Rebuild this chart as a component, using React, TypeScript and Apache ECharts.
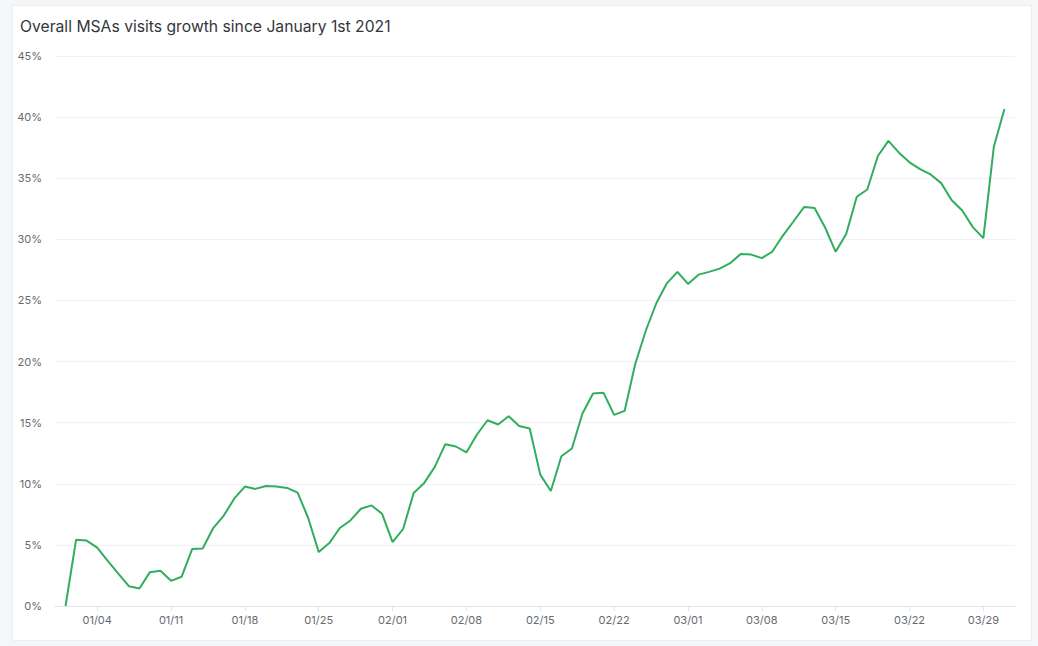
import React, { useEffect, useRef } from "react";
import * as echarts from "echarts";

const TITLE = "Overall MSAs visits growth since January 1st 2021";

// Daily growth values (%)
const janValues = [
  0, 5.43, 5.35, 4.77, 3.7, 2.65, 1.62, 1.43, 2.77, 2.88, 2.06, 2.39, 4.66, 4.71, 6.38, 7.4,
  8.8, 9.77, 9.58, 9.82, 9.77, 9.66, 9.28, 7.2, 4.41, 5.15, 6.38, 7.0, 7.96, 8.23, 7.55,
];
const febValues = [
  5.22, 6.3, 9.25, 10.07, 11.38, 13.24, 13.05, 12.56, 14.03, 15.2, 14.85, 15.53, 14.72, 14.52,
  10.75, 9.41, 12.25, 12.89, 15.75, 17.39, 17.44, 15.64, 15.97, 19.8, 22.52, 24.77, 26.4, 27.34,
];
const marValues = [
  26.35, 27.11, 27.34, 27.6, 28.05, 28.81, 28.75, 28.46, 29.0, 30.31, 31.46, 32.64, 32.56,
  30.97, 28.98, 30.43, 33.48, 34.08, 36.82, 38.05, 37.09, 36.3, 35.75, 35.31, 34.6, 33.2,
  32.36, 31.0, 30.1, 37.6, 40.67,
];

const monthLengths = [31, 28, 31];
const yTicks = { min: 0, max: 45, interval: 5 };

function pad(n: number) {
  return n < 10 ? "0" + n : String(n);
}

// categories: 12/31 padding, 01/01 .. 03/31, 04/01 padding
const categories: string[] = ["12/31"];
monthLengths.forEach((len, m) => {
  for (let d = 1; d <= len; d++) categories.push(pad(m + 1) + "/" + pad(d));
});
categories.push("04/01");

const seriesData: (number | null)[] = [null, ...janValues, ...febValues, ...marValues, null];

export default function App() {
  const ref = useRef<HTMLDivElement>(null);

  useEffect(() => {
    if (!ref.current) return;
    const chart = echarts.init(ref.current, undefined, { renderer: "svg" });
    const showIdx = (i: number) => i >= 4 && (i - 4) % 7 === 0;
    chart.setOption({
      animation: false,
      title: {
        text: TITLE,
        left: 15,
        top: 13,
        textStyle: {
          fontFamily: "Inter",
          fontSize: 15.7,
          fontWeight: "normal",
          color: "#33363b",
        },
      },
      grid: { left: 55, right: 23, top: 56, bottom: 40, containLabel: false },
      xAxis: {
        type: "category",
        boundaryGap: false,
        data: categories,
        axisLine: { lineStyle: { color: "#e0e6f1" } },
        axisTick: {
          show: true,
          interval: (i: number) => showIdx(i),
          length: 5,
          lineStyle: { color: "#e0e6f1" },
        },
        axisLabel: {
          interval: (i: number) => showIdx(i),
          color: "#666a70",
          fontFamily: "Inter",
          fontSize: 11,
          margin: 8,
        },
        splitLine: { show: false },
      },
      yAxis: {
        type: "value",
        min: yTicks.min,
        max: yTicks.max,
        interval: yTicks.interval,
        axisLine: { show: false },
        axisTick: { show: false },
        axisLabel: {
          formatter: "{value}%",
          color: "#666a70",
          fontFamily: "Inter",
          fontSize: 11,
          margin: 13,
        },
        splitLine: { lineStyle: { color: "#f1f2f4" } },
      },
      series: [
        {
          type: "line",
          data: seriesData,
          showSymbol: false,
          symbol: "none",
          lineStyle: { color: "#31ad5e", width: 2 },
          itemStyle: { color: "#31ad5e" },
        },
      ],
    });
    return () => chart.dispose();
  }, []);

  return (
    <div
      style={{
        position: "fixed",
        left: 0,
        top: 0,
        width: 1038,
        height: 646,
        background: "#f5f6f8",
        overflow: "hidden",
      }}
    >
      <div
        style={{
          position: "absolute",
          left: 12,
          top: 5,
          width: 1020,
          height: 636,
          background: "#ffffff",
          border: "1px solid #eceef1",
          boxSizing: "border-box",
        }}
      />
      <div
        ref={ref}
        style={{ position: "absolute", left: 0, top: 0, width: 1038, height: 646 }}
      />
    </div>
  );
}
